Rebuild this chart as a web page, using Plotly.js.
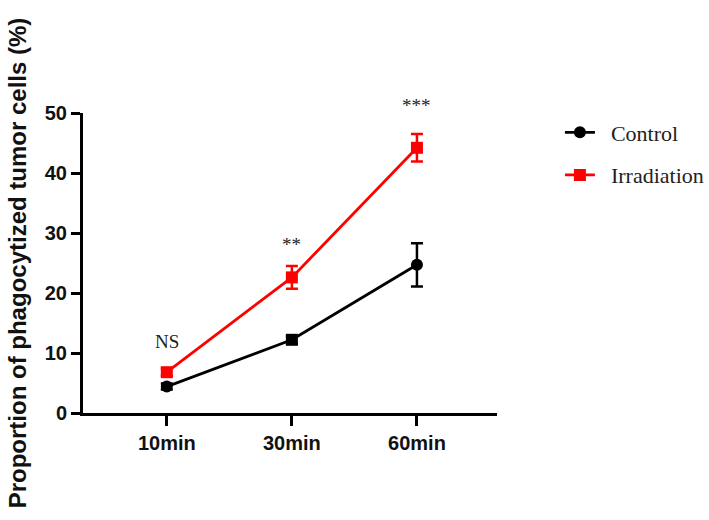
<!DOCTYPE html>
<html>
<head>
<meta charset="utf-8">
<script src="https://cdn.plot.ly/plotly-3.0.1.min.js"></script>
<style>html,body{margin:0;padding:0;background:#fff;}#chart{width:709px;height:520px;}</style>
</head>
<body>
<div id="chart"></div>
<script>
const timepoints = ['10min', '30min', '60min'];
const seriesNames = ['Control', 'Irradiation'];
const controlMean = [4.4, 12.2, 24.7];
const controlErr = [0.5, 0.6, 3.6];
const irradiationMean = [6.8, 22.6, 44.2];
const irradiationErr = [0.6, 1.9, 2.3];
const sigLabels = ['NS', '**', '***'];
const sigY = [11.9, 28.0, 51.2];
const yTicks = [0, 10, 20, 30, 40, 50];
const yMax = 50;

const pad = '\u00a0\u00a0';
const traces = [
  {
    x: timepoints, y: controlMean, name: pad + seriesNames[0], type: 'scatter', mode: 'lines+markers',
    line: {color: '#000000', width: 2.8},
    marker: {color: '#000000', size: 12, symbol: ['circle', 'square', 'circle']},
    error_y: {type: 'data', array: controlErr, visible: true, color: '#000000', thickness: 2.5, width: 6},
    legendgroup: 'a', cliponaxis: false
  },
  {
    x: timepoints, y: irradiationMean, name: pad + seriesNames[1], type: 'scatter', mode: 'lines+markers',
    line: {color: '#ff0000', width: 2.8},
    marker: {color: '#ff0000', size: 12, symbol: 'square'},
    error_y: {type: 'data', array: irradiationErr, visible: true, color: '#ff0000', thickness: 2.5, width: 6},
    legendgroup: 'b', cliponaxis: false
  }
];

const annotations = timepoints.map((t, i) => ({
  x: t, xref: 'x', y: sigY[i] / yMax, yref: 'paper', yanchor: 'middle', xanchor: 'center',
  text: sigLabels[i], showarrow: false,
  font: {family: '"Liberation Serif", "Times New Roman", serif', size: 19, color: '#222'}
}));

const layout = {
  width: 709, height: 520,
  margin: {l: 83, r: 212, t: 113, b: 107, autoexpand: false},
  paper_bgcolor: '#ffffff', plot_bgcolor: '#ffffff',
  showlegend: true,
  legend: {
    x: 1.152, y: 1.005, xanchor: 'left', yanchor: 'top',
    font: {family: '"Liberation Serif", "Times New Roman", serif', size: 22, color: '#222'},
    tracegroupgap: 11, bgcolor: 'rgba(0,0,0,0)'
  },
  xaxis: {
    type: 'category', range: [-0.67, 2.64],
    showline: true, linecolor: '#000', linewidth: 3, mirror: false,
    ticks: 'outside', ticklen: 10, tickwidth: 3, tickcolor: '#000',
    showgrid: false, zeroline: false,
    tickfont: {family: '"Liberation Sans", Arial, sans-serif', size: 20, color: '#111', weight: 'bold'}
  },
  yaxis: {
    range: [0, yMax], tickvals: yTicks,
    showline: true, linecolor: '#000', linewidth: 3,
    ticks: 'outside', ticklen: 9, tickwidth: 3, tickcolor: '#000',
    showgrid: false, zeroline: false,
    tickfont: {family: '"Liberation Sans", Arial, sans-serif', size: 20, color: '#111', weight: 'bold'},
    title: {text: 'Proportion of phagocytized tumor cells (%)', standoff: 12,
      font: {family: '"Liberation Sans", Arial, sans-serif', size: 24, color: '#111', weight: 'bold'}}
  },
  annotations: annotations
};

Plotly.newPlot('chart', traces, layout, {displayModeBar: false, staticPlot: true});
</script>
</body>
</html>
